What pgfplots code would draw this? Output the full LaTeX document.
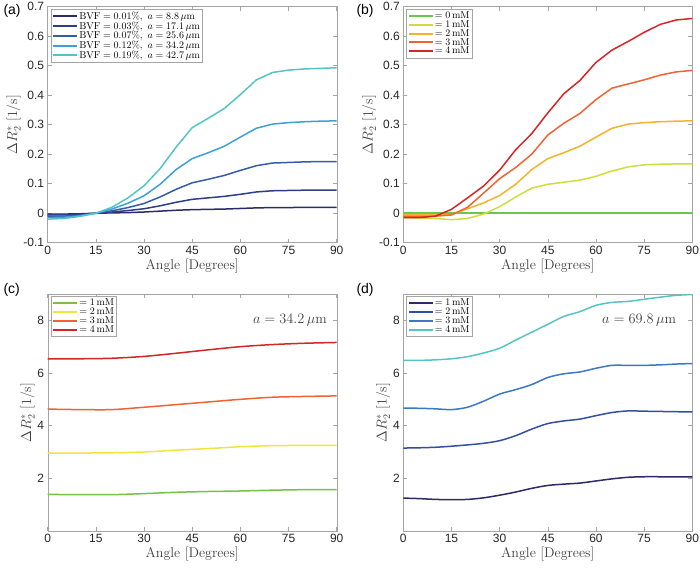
\documentclass[border=0pt]{standalone}
\usepackage{fontspec}
\usepackage{pgfplots}
\pgfplotsset{compat=1.18}
\newfontfamily\tickfont{Liberation Sans}
\definecolor{ca1}{RGB}{44,42,105}
\definecolor{ca2}{RGB}{46,62,135}
\definecolor{ca3}{RGB}{52,92,170}
\definecolor{ca4}{RGB}{62,160,215}
\definecolor{ca5}{RGB}{85,196,200}
\definecolor{cb0}{RGB}{105,200,75}
\definecolor{cb1}{RGB}{205,222,60}
\definecolor{cb2}{RGB}{245,178,45}
\definecolor{cb3}{RGB}{238,100,50}
\definecolor{cb4}{RGB}{212,38,38}
\definecolor{cc1}{RGB}{120,192,72}
\definecolor{cc2}{RGB}{242,228,60}
\definecolor{cd2}{RGB}{50,80,160}
\definecolor{cd3}{RGB}{60,120,195}
\definecolor{frame}{RGB}{165,165,165}
\pgfplotsset{
  mystyle/.style={
    scale only axis, width=289pt, height=236pt, anchor=south west,
    xmin=0, xmax=90, xtick={0,15,...,90},
    axis line style={frame}, tick style={frame, line width=0.6pt},
    tick align=inside, major tick length=4pt,
    every tick label/.append style={font=\tickfont\fontsize{12}{12}\selectfont, text=black!85},
    /pgf/number format/assume math mode=true,
    xlabel={Angle [Degrees]}, ylabel={$\Delta R_2^*$ [1/s]},
    label style={font=\fontsize{14}{16}\selectfont, text=black!75},
    xlabel style={yshift=3pt}, ylabel style={yshift=-4pt},
    legend cell align=left,
    legend style={draw=frame, font=\fontsize{10}{10}\selectfont, inner sep=1.5pt, at={(0.01,0.99)}, anchor=north west, nodes={inner sep=1pt}},
    legend image code/.code={\draw[mark repeat=2,mark phase=2,#1,line width=2pt] plot coordinates {(0pt,0pt)(12pt,0pt)(24pt,0pt)};},
    every axis plot/.append style={line width=1.5pt},
  },
  ab/.style={ymin=-0.1, ymax=0.7, ytick={-0.1,0,...,0.7},
     yticklabel style={/pgf/number format/fixed, /pgf/number format/precision=1}},
  cd/.style={ymin=0, ymax=9, ytick={2,4,6,8}},
}
\begin{document}
\begin{tikzpicture}
\useasboundingbox (0,0) rectangle (700pt,567pt);
% (a)
\begin{axis}[mystyle, ab, at={(47.7pt,324.3pt)}, legend style={row sep=-1.2pt}]
\addplot[ca1] coordinates {(0,-0.003)(5,-0.003)(10,-0.002)(15,0)(20,0.001)(25,0.002)(30,0.004)(35,0.007)(40,0.010)(45,0.012)(50,0.013)(55,0.014)(60,0.016)(65,0.018)(70,0.019)(75,0.019)(80,0.02)(85,0.02)(90,0.02)};
\addlegendentry{$\mathrm{BVF}=0.01\%,\ a=8.8\,\mu\mathrm{m}$}
\addplot[ca2] coordinates {(0,-0.006)(5,-0.006)(10,-0.004)(15,0)(20,0.004)(25,0.009)(30,0.015)(35,0.025)(40,0.037)(45,0.047)(50,0.052)(55,0.057)(60,0.064)(65,0.072)(70,0.076)(75,0.077)(80,0.078)(85,0.078)(90,0.078)};
\addlegendentry{$\mathrm{BVF}=0.03\%,\ a=17.1\,\mu\mathrm{m}$}
\addplot[ca3] coordinates {(0,-0.01)(5,-0.01)(10,-0.007)(15,0)(20,0.008)(25,0.019)(30,0.033)(35,0.055)(40,0.081)(45,0.103)(50,0.115)(55,0.128)(60,0.145)(65,0.161)(70,0.17)(75,0.172)(80,0.174)(85,0.175)(90,0.175)};
\addlegendentry{$\mathrm{BVF}=0.07\%,\ a=25.6\,\mu\mathrm{m}$}
\addplot[ca4] coordinates {(0,-0.015)(5,-0.014)(10,-0.009)(15,0)(20,0.014)(25,0.034)(30,0.059)(35,0.098)(40,0.148)(45,0.185)(50,0.205)(55,0.227)(60,0.258)(65,0.288)(70,0.302)(75,0.307)(80,0.31)(85,0.312)(90,0.313)};
\addlegendentry{$\mathrm{BVF}=0.12\%,\ a=34.2\,\mu\mathrm{m}$}
\addplot[ca5] coordinates {(0,-0.02)(5,-0.018)(10,-0.011)(15,0)(20,0.02)(25,0.052)(30,0.093)(35,0.151)(40,0.224)(45,0.29)(50,0.322)(55,0.355)(60,0.402)(65,0.452)(70,0.477)(75,0.485)(80,0.489)(85,0.491)(90,0.493)};
\addlegendentry{$\mathrm{BVF}=0.19\%,\ a=42.7\,\mu\mathrm{m}$}
\end{axis}
\node[font=\tickfont\fontsize{14}{14}\selectfont, anchor=north west] at (0pt,566pt) {(a)};
% (b)
\begin{axis}[mystyle, ab, at={(403.3pt,324.3pt)}, legend style={row sep=-1.5pt}]
\addplot[cb0] coordinates {(0,0)(15,0)(30,0)(45,0)(60,0)(75,0)(90,0)};
\addlegendentry{$=0\,\mathrm{mM}$}
\addplot[cb1] coordinates {(0,-0.015)(5,-0.016)(10,-0.018)(15,-0.022)(20,-0.018)(25,-0.003)(30,0.022)(35,0.055)(40,0.085)(45,0.098)(50,0.105)(55,0.112)(60,0.125)(65,0.143)(70,0.157)(75,0.164)(80,0.166)(85,0.167)(90,0.167)};
\addlegendentry{$=1\,\mathrm{mM}$}
\addplot[cb2] coordinates {(0,-0.005)(5,-0.005)(10,-0.005)(15,-0.005)(20,0.015)(25,0.035)(30,0.06)(35,0.098)(40,0.148)(45,0.185)(50,0.205)(55,0.227)(60,0.258)(65,0.288)(70,0.302)(75,0.307)(80,0.31)(85,0.312)(90,0.313)};
\addlegendentry{$=2\,\mathrm{mM}$}
\addplot[cb3] coordinates {(0,-0.01)(5,-0.01)(10,-0.01)(15,-0.006)(20,0.02)(25,0.068)(30,0.117)(35,0.155)(40,0.2)(45,0.265)(50,0.305)(55,0.338)(60,0.385)(65,0.424)(70,0.438)(75,0.452)(80,0.468)(85,0.479)(90,0.484)};
\addlegendentry{$=3\,\mathrm{mM}$}
\addplot[cb4] coordinates {(0,-0.015)(5,-0.015)(10,-0.01)(15,0.013)(20,0.052)(25,0.092)(30,0.146)(35,0.215)(40,0.27)(45,0.34)(50,0.405)(55,0.45)(60,0.511)(65,0.553)(70,0.582)(75,0.613)(80,0.64)(85,0.655)(90,0.66)};
\addlegendentry{$=4\,\mathrm{mM}$}
\end{axis}
\node[font=\tickfont\fontsize{14}{14}\selectfont, anchor=north west] at (353pt,566pt) {(b)};
% (c)
\begin{axis}[mystyle, cd, at={(47.7pt,36pt)}, height=237pt, legend style={row sep=-1.5pt}]
\addplot[cc1, smooth] coordinates {(0,1.39)(10,1.38)(20,1.38)(30,1.42)(40,1.47)(50,1.50)(60,1.52)(70,1.55)(80,1.57)(90,1.57)};
\addlegendentry{$=1\,\mathrm{mM}$}
\addplot[cc2, smooth] coordinates {(0,2.96)(10,2.96)(20,2.97)(30,3.0)(40,3.07)(50,3.13)(60,3.2)(70,3.24)(80,3.25)(90,3.25)};
\addlegendentry{$=2\,\mathrm{mM}$}
\addplot[cb3, smooth] coordinates {(0,4.63)(10,4.61)(20,4.61)(30,4.7)(40,4.8)(50,4.9)(60,5.0)(70,5.08)(80,5.11)(90,5.13)};
\addlegendentry{$=3\,\mathrm{mM}$}
\addplot[cb4, smooth] coordinates {(0,6.54)(10,6.54)(20,6.56)(30,6.63)(40,6.75)(50,6.88)(60,7.0)(70,7.08)(80,7.13)(90,7.16)};
\addlegendentry{$=4\,\mathrm{mM}$}
\node[anchor=east, font=\fontsize{14}{16}\selectfont, text=black!75] at (axis cs:88,8) {$a=34.2\,\mu\mathrm{m}$};
\end{axis}
\node[font=\tickfont\fontsize{14}{14}\selectfont, anchor=north west] at (0pt,287pt) {(c)};
% (d)
\begin{axis}[mystyle, cd, at={(403.3pt,36pt)}, height=237pt, legend style={row sep=-1.5pt}]
\addplot[ca1, smooth] coordinates {(0,1.25)(5,1.23)(10,1.2)(15,1.19)(20,1.2)(25,1.26)(30,1.36)(35,1.48)(40,1.62)(45,1.73)(50,1.78)(55,1.82)(60,1.9)(65,1.98)(70,2.04)(75,2.06)(80,2.06)(85,2.06)(90,2.06)};
\addlegendentry{$=1\,\mathrm{mM}$}
\addplot[cd2, smooth] coordinates {(0,3.15)(5,3.16)(10,3.18)(15,3.22)(20,3.27)(25,3.33)(30,3.43)(35,3.62)(40,3.87)(45,4.08)(50,4.18)(55,4.25)(60,4.38)(65,4.5)(70,4.56)(75,4.55)(80,4.54)(85,4.53)(90,4.52)};
\addlegendentry{$=2\,\mathrm{mM}$}
\addplot[cd3, smooth] coordinates {(0,4.67)(5,4.66)(10,4.64)(15,4.61)(20,4.7)(25,4.93)(30,5.2)(35,5.37)(40,5.56)(45,5.83)(50,5.97)(55,6.04)(60,6.18)(65,6.29)(70,6.29)(75,6.29)(80,6.31)(85,6.34)(90,6.36)};
\addlegendentry{$=3\,\mathrm{mM}$}
\addplot[ca5, smooth] coordinates {(0,6.48)(5,6.48)(10,6.5)(15,6.54)(20,6.62)(25,6.76)(30,6.94)(35,7.25)(40,7.55)(45,7.85)(50,8.15)(55,8.33)(60,8.57)(65,8.68)(70,8.72)(75,8.8)(80,8.88)(85,8.95)(90,8.98)};
\addlegendentry{$=4\,\mathrm{mM}$}
\node[anchor=east, font=\fontsize{14}{16}\selectfont, text=black!75] at (axis cs:86,8) {$a=69.8\,\mu\mathrm{m}$};
\end{axis}
\node[font=\tickfont\fontsize{14}{14}\selectfont, anchor=north west] at (353pt,287pt) {(d)};
\end{tikzpicture}
\end{document}
